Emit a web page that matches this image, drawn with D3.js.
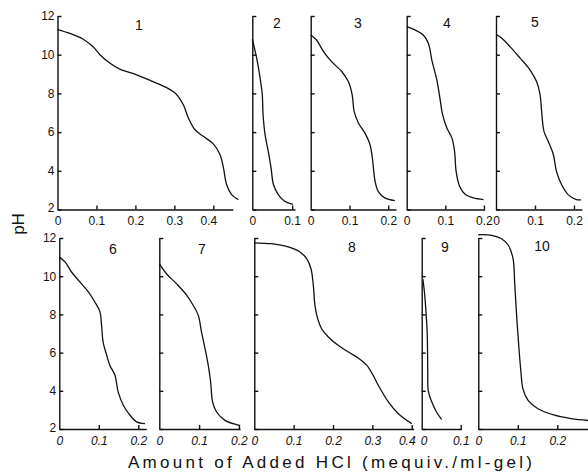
<!DOCTYPE html>
<html>
<head>
<meta charset="utf-8">
<script src="https://cdn.jsdelivr.net/npm/d3@7"></script>
<style>
  body { margin: 0; background: #fff; }
  svg { display: block; }
  .axis path, .axis line { stroke: #111; stroke-width: 1.4; }
  .axis text { font-family: "Liberation Sans", Arial, sans-serif; font-size: 12px; fill: #111; }
  .bottom .xax text { font-style: italic; }
</style>
</head>
<body>
<div id="chart"></div>
<script>
// titration curves: [amount of HCl (mequiv/ml-gel), pH]
var panelNames = ["1", "2", "3", "4", "5", "6", "7", "8", "9", "10"];
var xMax = [0.45, 0.107, 0.22, 0.202, 0.22, 0.22, 0.203, 0.405, 0.102, 0.28];
var xTicks = [
  [0, 0.1, 0.2, 0.3, 0.4], [0, 0.1], [0, 0.1, 0.2], [0, 0.1, 0.2], [0, 0.1, 0.2],
  [0, 0.1, 0.2], [0, 0.1, 0.2], [0, 0.1, 0.2, 0.3, 0.4], [0, 0.1], [0, 0.1, 0.2]
];
var yTicks = [2, 4, 6, 8, 10, 12];

var curve1 = [[0, 11.3], [0.032, 11.1], [0.066, 10.8], [0.092, 10.4], [0.109, 10.0], [0.135, 9.56],
  [0.16, 9.25], [0.203, 8.96], [0.245, 8.61], [0.28, 8.3], [0.305, 7.96], [0.323, 7.41], [0.336, 6.73],
  [0.353, 6.12], [0.374, 5.78], [0.40, 5.39], [0.417, 4.84], [0.426, 4.15], [0.434, 3.29], [0.447, 2.77], [0.464, 2.51]];
var curve2 = [[0, 10.8], [0.011, 9.82], [0.019, 8.87], [0.025, 7.93], [0.027, 6.9], [0.032, 5.87],
  [0.04, 5.0], [0.047, 4.15], [0.053, 3.29], [0.065, 2.77], [0.081, 2.43], [0.102, 2.26]];
var curve3 = [[0, 11.02], [0.015, 10.76], [0.033, 10.16], [0.054, 9.64], [0.08, 9.13], [0.097, 8.61],
  [0.107, 7.93], [0.112, 7.07], [0.123, 6.47], [0.14, 5.95], [0.153, 5.35], [0.159, 4.66], [0.166, 3.46],
  [0.174, 2.94], [0.191, 2.6], [0.217, 2.46]];
var curve4 = [[0, 11.45], [0.021, 11.28], [0.043, 11.02], [0.056, 10.59], [0.066, 9.64], [0.078, 8.7],
  [0.086, 7.76], [0.093, 6.9], [0.104, 6.21], [0.117, 5.7], [0.124, 5.0], [0.128, 3.97], [0.137, 3.2],
  [0.152, 2.77], [0.173, 2.6], [0.199, 2.51]];
var curve5 = [[0, 11.06], [0.015, 10.85], [0.036, 10.42], [0.062, 9.82], [0.087, 9.22], [0.104, 8.61],
  [0.113, 7.93], [0.117, 7.07], [0.123, 6.04], [0.134, 5.52], [0.147, 4.84], [0.155, 3.97], [0.168, 3.29],
  [0.185, 2.77], [0.206, 2.51], [0.218, 2.5]];
var curve6 = [[0, 11.0], [0.015, 10.74], [0.031, 10.22], [0.052, 9.7], [0.074, 9.17], [0.09, 8.65],
  [0.103, 8.13], [0.107, 7.43], [0.111, 6.55], [0.12, 5.86], [0.128, 5.33], [0.141, 4.81], [0.149, 3.94],
  [0.162, 3.24], [0.179, 2.72], [0.196, 2.37], [0.217, 2.28]];
var curve7 = [[0, 10.66], [0.018, 10.13], [0.043, 9.61], [0.069, 9.0], [0.085, 8.48], [0.098, 7.95],
  [0.106, 7.08], [0.115, 6.2], [0.123, 5.33], [0.129, 4.46], [0.134, 3.41], [0.144, 2.89], [0.165, 2.45],
  [0.194, 2.23], [0.203, 2.19]];
var curve8 = [[0, 11.75], [0.044, 11.7], [0.086, 11.53], [0.116, 11.27], [0.133, 10.92], [0.144, 10.39],
  [0.15, 9.52], [0.154, 8.48], [0.161, 7.78], [0.171, 7.25], [0.188, 6.82], [0.213, 6.38], [0.239, 6.03],
  [0.264, 5.72], [0.286, 5.33], [0.302, 4.81], [0.315, 4.29], [0.341, 3.41], [0.366, 2.8], [0.40, 2.28]];
var curve9 = [[0.003, 9.85], [0.007, 9.17], [0.011, 8.13], [0.014, 7.08], [0.015, 6.03], [0.0155, 4.98],
  [0.017, 3.97], [0.026, 3.41], [0.038, 2.89], [0.051, 2.5]];
var curve10 = [[0, 12.17], [0.034, 12.14], [0.059, 11.96], [0.076, 11.62], [0.088, 10.92], [0.092, 9.7],
  [0.097, 7.95], [0.103, 6.2], [0.108, 4.98], [0.113, 4.1], [0.126, 3.5], [0.151, 3.06], [0.193, 2.72],
  [0.235, 2.54], [0.28, 2.44]];
var curves = [curve1, curve2, curve3, curve4, curve5, curve6, curve7, curve8, curve9, curve10];

// layout (pixels)
var width = 588, height = 472;
var rows = [{top: 16, bottom: 209.5}, {top: 238, bottom: 429}];
var layout = [
  {row: 0, left: 57.5, right: 232.8, lx: 139, ly: 30, yLabels: true},
  {row: 0, left: 252.3, right: 295, lx: 277, ly: 28},
  {row: 0, left: 310.7, right: 396, lx: 358, ly: 28},
  {row: 0, left: 406.7, right: 484.7, lx: 447, ly: 28},
  {row: 0, left: 496, right: 581.8, lx: 535, ly: 27},
  {row: 1, left: 59.3, right: 146.2, lx: 113, ly: 254, yLabels: true},
  {row: 1, left: 159.3, right: 240.1, lx: 202, ly: 254},
  {row: 1, left: 254.3, right: 413.7, lx: 352, ly: 252},
  {row: 1, left: 421.7, right: 461.5, lx: 445, ly: 252, firstShift: 2},
  {row: 1, left: 478.3, right: 588.9, lx: 542, ly: 251}
];

var svg = d3.select("#chart").append("svg")
    .attr("width", width)
    .attr("height", height);

var fmt = function(d) { return d === 0 ? "0" : d3.format(".1f")(d); };

panelNames.forEach(function(name, i) {
  var L = layout[i], R = rows[L.row];
  var x = d3.scaleLinear().domain([0, xMax[i]]).range([L.left, L.right]);
  var y = d3.scaleLinear().domain([2, 12]).range([R.bottom, R.top]);

  var g = svg.append("g").attr("class", L.row ? "bottom" : "top");

  var xg = g.append("g")
      .attr("class", "axis xax")
      .attr("transform", "translate(0," + R.bottom + ")")
      .call(d3.axisBottom(x).tickValues(xTicks[i]).tickSize(-4).tickSizeOuter(0)
        .tickPadding(7).tickFormat(fmt));

  g.append("g")
      .attr("class", "axis yax")
      .attr("transform", "translate(" + L.left + ",0)")
      .call(d3.axisLeft(y).tickValues(yTicks).tickSize(-4).tickSizeOuter(0)
        .tickPadding(3).tickFormat(L.yLabels ? d3.format("d") : ""));

  // no tick mark at the corners
  xg.selectAll(".tick").filter(function(d) { return d === 0; }).select("line").remove();
  g.selectAll(".yax .tick").filter(function(d) { return d === 2; }).select("text").attr("dy", "0.2em");

  // the end labels sit a little inside the axis end, as in the print
  var last = xTicks[i][xTicks[i].length - 1];
  if (last > 0.3) xg.selectAll(".tick").filter(function(d) { return d === last; }).select("text").attr("x", -5);
  if (L.firstShift) xg.selectAll(".tick").filter(function(d) { return d === 0; }).select("text").attr("x", L.firstShift);

  var line = d3.line()
      .x(function(d) { return x(d[0]); })
      .y(function(d) { return y(d[1]); })
      .curve(d3.curveCatmullRom.alpha(0.5));

  g.append("path")
      .datum(curves[i])
      .attr("d", line)
      .attr("fill", "none")
      .attr("stroke", "#111")
      .attr("stroke-width", 1.3);

  g.append("text")
      .attr("x", L.lx)
      .attr("y", L.ly)
      .attr("text-anchor", "middle")
      .style("font-family", "Liberation Sans, Arial, sans-serif")
      .style("font-size", "14px")
      .style("fill", "#111")
      .text(name);
});

svg.append("text")
    .attr("transform", "translate(24,224) rotate(-90)")
    .attr("text-anchor", "middle")
    .style("font-family", "Liberation Sans, Arial, sans-serif")
    .style("font-size", "17px")
    .style("fill", "#111")
    .text("pH");

svg.append("text")
    .attr("x", 128)
    .attr("y", 468)
    .attr("textLength", 404)
    .attr("lengthAdjust", "spacing")
    .style("font-family", "Liberation Sans, Arial, sans-serif")
    .style("font-size", "17px")
    .style("fill", "#111")
    .text("Amount of Added HCl (mequiv./ml-gel)");
</script>
</body>
</html>
